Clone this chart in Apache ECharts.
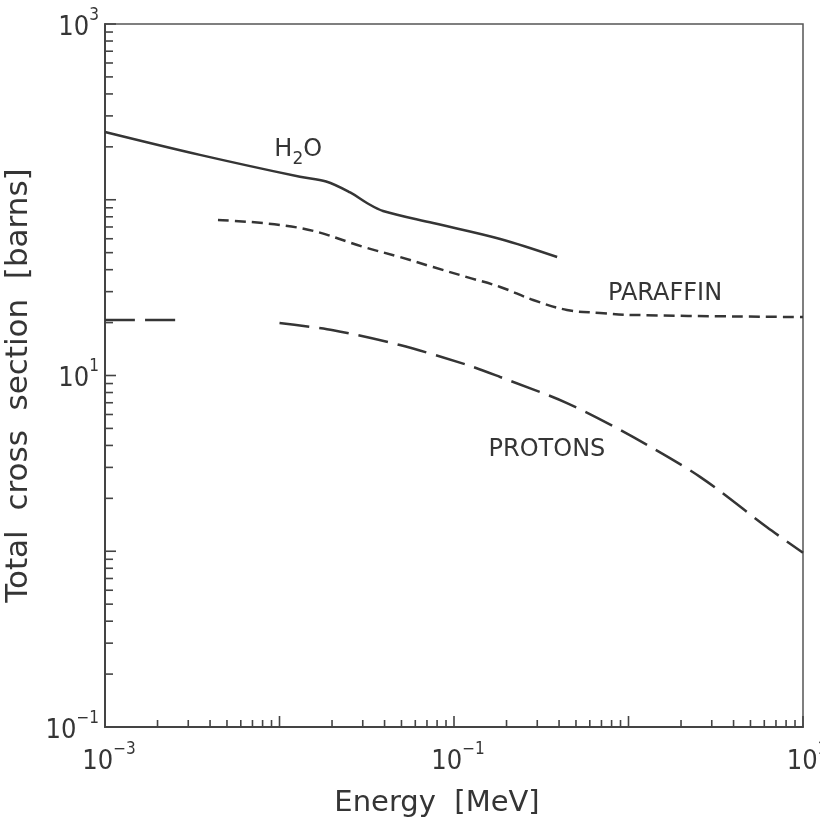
<!DOCTYPE html>
<html>
<head>
<meta charset="utf-8">
<script src="https://cdn.jsdelivr.net/npm/echarts@6/dist/echarts.min.js"></script>
<style>
  html, body { margin: 0; padding: 0; background: #fff; }
  #main { width: 820px; height: 827px; }
</style>
</head>
<body>
<div id="main"></div>
<script>
// values (energy in MeV, cross section in barns)
var h2oEnergy = [0.001, 0.0035, 0.0131, 0.0185, 0.0254, 0.0317, 0.0392, 0.0759, 0.184, 0.39];
var h2oSigma = [243, 180, 135, 127, 110, 95.8, 86.3, 73.7, 59.8, 47.2];

var paraffinEnergy = [0.00444, 0.0131, 0.0317, 0.049, 0.0759, 0.1187, 0.184, 0.284, 0.444, 0.687, 1.06, 10];
var paraffinSigma = [76.7, 69.1, 53.2, 47.2, 41.4, 36.3, 31.9, 26.9, 23.6, 22.7, 22.1, 21.5];

// null = the break in the proton curve
var protonEnergy = [0.001, 0.0027, 0.005, 0.01, 0.0203, 0.049, 0.1187, 0.184, 0.444, 1.06, 2.57, 6.22, 10];
var protonSigma = [20.7, 20.7, null, 19.9, 18.1, 14.9, 11.5, 9.8, 6.97, 4.47, 2.65, 1.37, 0.98];

var xDecades = [-3, -2, -1, 0];      // minor ticks 2..10 in each
var yDecades = [-1, 0, 1, 2];
var xLabelExp = [-3, -1, 1];
var yLabelExp = [-1, 1, 3];

var curveLabels = [
  { text: '{a|H}{s|2}{a|O}', at: [0.0128, 185] },
  { text: 'PARAFFIN', at: [1.62, 29.1] },
  { text: 'PROTONS', at: [0.341, 3.77] }
];

var xMin = 0.001, xMax = 10, yMin = 0.1, yMax = 1000;
var ink = '#353535';

function pairs(xs, ys) {
  var out = [];
  for (var i = 0; i < xs.length; i++) out.push([xs[i], ys[i]]);
  return out;
}

// tick positions along the log axes
var xTicks = [], yTicks = [];
xDecades.forEach(function (d) {
  for (var k = 2; k <= 10; k++) xTicks.push([k * Math.pow(10, d), yMin, k == 10 ? 1 : 0]);
});
yDecades.forEach(function (d) {
  for (var k = 2; k <= 10; k++) yTicks.push([xMin, k * Math.pow(10, d), k == 10 ? 1 : 0]);
});

function expLabel(v, shown) {
  var e = Math.round(Math.log10(v));
  if (shown.indexOf(e) < 0) return '';
  return '{b|10}{s|' + String(e).replace('-', '\u2212') + '}';
}

var tickRich = {
  b: { fontSize: 27, fontFamily: 'DejaVu Sans Condensed', color: ink, lineHeight: 34, verticalAlign: 'bottom' },
  s: { fontSize: 17, fontFamily: 'DejaVu Sans Condensed', color: ink, lineHeight: 34, verticalAlign: 'top' }
};

var chart = echarts.init(document.getElementById('main'));

var option = {
  backgroundColor: '#fff',
  animation: false,
  grid: {
    left: 105, right: 17, top: 24, bottom: 100,
    outerBoundsMode: 'none',
    show: true, borderColor: '#555', borderWidth: 1.5
  },
  xAxis: {
    type: 'log', logBase: 10, min: xMin, max: xMax,
    name: 'Energy  [MeV]', nameLocation: 'middle', nameGap: 62,
    nameTextStyle: { fontSize: 29, fontFamily: 'DejaVu Sans', color: ink, padding: [0, 34, 0, 0] },
    axisLine: { lineStyle: { color: '#444', width: 2 } },
    axisTick: { show: false },
    splitLine: { show: false },
    axisLabel: {
      margin: 14, padding: [0, 0, 0, 8],
      formatter: function (v) { return expLabel(v, xLabelExp); },
      rich: tickRich
    }
  },
  yAxis: {
    type: 'log', logBase: 10, min: yMin, max: yMax,
    name: 'Total  cross  section  [barns]', nameLocation: 'middle', nameGap: 62, nameRotate: 90,
    nameTextStyle: { fontSize: 31, fontFamily: 'DejaVu Sans', color: ink, padding: [0, 20, 0, 0] },
    axisLine: { lineStyle: { color: '#444', width: 2 } },
    axisTick: { show: false },
    splitLine: { show: false },
    axisLabel: {
      margin: 6,
      formatter: function (v) { return expLabel(v, yLabelExp); },
      rich: tickRich
    }
  },
  series: [
    {
      name: 'H2O', type: 'line', data: pairs(h2oEnergy, h2oSigma),
      showSymbol: false, smooth: 0.35,
      lineStyle: { color: ink, width: 2.5 }
    },
    {
      name: 'PARAFFIN', type: 'line', data: pairs(paraffinEnergy, paraffinSigma),
      showSymbol: false, smooth: 0.4,
      lineStyle: { color: ink, width: 2.5, type: [11, 6] }
    },
    {
      name: 'PROTONS', type: 'line', data: pairs(protonEnergy, protonSigma),
      showSymbol: false, smooth: 0.3, connectNulls: false,
      lineStyle: { color: ink, width: 2.5, type: [30, 10] }
    },
    {
      // ticks on the bottom axis, pointing up
      type: 'custom', data: xTicks, silent: true, z: 5,
      renderItem: function (params, api) {
        var p = api.coord([api.value(0), api.value(1)]);
        var len = api.value(2) ? 11 : 7;
        return { type: 'line', shape: { x1: p[0], y1: p[1], x2: p[0], y2: p[1] - len },
                 style: { stroke: '#444', lineWidth: 1.6 } };
      }
    },
    {
      // ticks on the left axis, pointing right
      type: 'custom', data: yTicks, silent: true, z: 5,
      renderItem: function (params, api) {
        var p = api.coord([api.value(0), api.value(1)]);
        var len = api.value(2) ? 11 : 8;
        return { type: 'line', shape: { x1: p[0], y1: p[1], x2: p[0] + len, y2: p[1] },
                 style: { stroke: '#444', lineWidth: 1.6 } };
      }
    }
  ]
};

chart.setOption(option);

// curve names placed at data positions
chart.setOption({
  graphic: curveLabels.map(function (c) {
    var p = chart.convertToPixel({ gridIndex: 0 }, c.at);
    return {
      type: 'text', x: p[0], y: p[1], silent: true,
      style: {
        text: c.text, align: 'center', verticalAlign: 'middle',
        fontSize: 24, fontFamily: 'DejaVu Sans', fill: ink,
        rich: {
          a: { fontSize: 24, fontFamily: 'DejaVu Sans', fill: ink, lineHeight: 30, verticalAlign: 'top' },
          s: { fontSize: 17, fontFamily: 'DejaVu Sans', fill: ink, lineHeight: 30, verticalAlign: 'bottom' }
        }
      }
    };
  })
});
</script>
</body>
</html>
